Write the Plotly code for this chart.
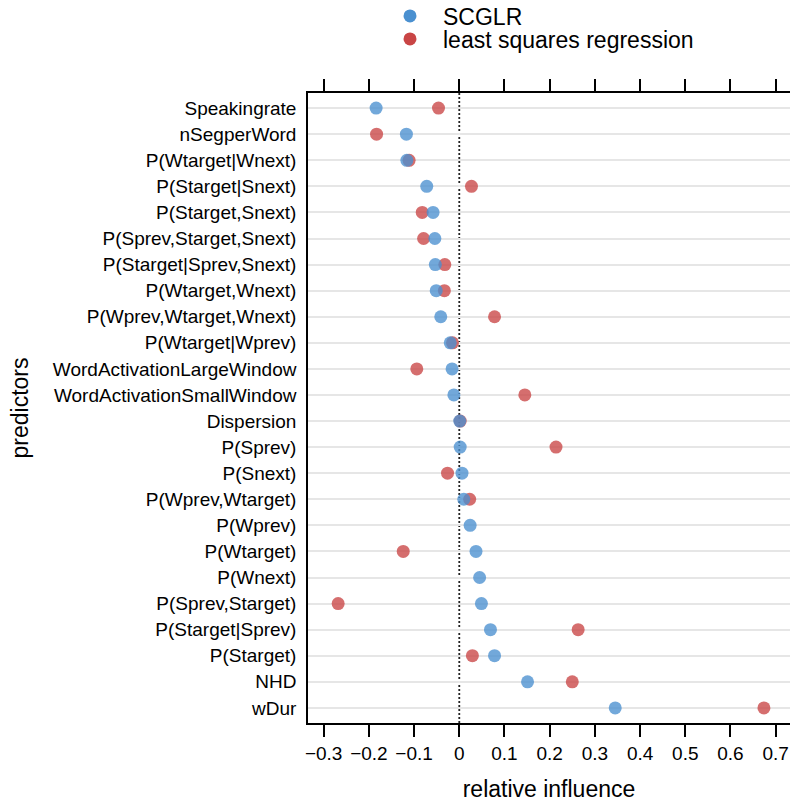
import plotly.graph_objects as go

predictors = [
    "Speakingrate", "nSegperWord", "P(Wtarget|Wnext)", "P(Starget|Snext)",
    "P(Starget,Snext)", "P(Sprev,Starget,Snext)", "P(Starget|Sprev,Snext)",
    "P(Wtarget,Wnext)", "P(Wprev,Wtarget,Wnext)", "P(Wtarget|Wprev)",
    "WordActivationLargeWindow", "WordActivationSmallWindow", "Dispersion",
    "P(Sprev)", "P(Snext)", "P(Wprev,Wtarget)", "P(Wprev)", "P(Wtarget)",
    "P(Wnext)", "P(Sprev,Starget)", "P(Starget|Sprev)", "P(Starget)", "NHD", "wDur",
]
scglr = [
    -0.184, -0.117, -0.116, -0.072, -0.058, -0.054, -0.053, -0.051, -0.041,
    -0.020, -0.016, -0.012, 0.001, 0.002, 0.006, 0.010, 0.024, 0.037, 0.045,
    0.049, 0.069, 0.078, 0.151, 0.345,
]
lsr = [
    -0.046, -0.183, -0.111, 0.027, -0.082, -0.079, -0.032, -0.033, 0.078,
    -0.015, -0.094, 0.145, 0.002, 0.214, -0.026, 0.023, None, -0.124, None,
    -0.268, 0.263, 0.029, 0.250, 0.674,
]
x_ticks = [-0.3, -0.2, -0.1, 0, 0.1, 0.2, 0.3, 0.4, 0.5, 0.6, 0.7]
x_ticktext = ["\u22120.3", "\u22120.2", "\u22120.1", "0", "0.1", "0.2", "0.3", "0.4", "0.5", "0.6", "0.7"]

BLUE = "#4A90D0"
RED = "#C94545"
FONT = "Liberation Sans, Arial, sans-serif"

fig = go.Figure()
fig.add_trace(go.Scatter(x=lsr, y=predictors, mode="markers", showlegend=False,
                         marker=dict(size=13, color=RED, opacity=0.78, line=dict(width=0))))
fig.add_trace(go.Scatter(x=scglr, y=predictors, mode="markers", showlegend=False,
                         marker=dict(size=13, color=BLUE, opacity=0.78, line=dict(width=0))))
# legend entries
fig.add_trace(go.Scatter(x=[None], y=[None], mode="markers", name="SCGLR", legend="legend",
                         marker=dict(size=13, color=BLUE)))
fig.add_trace(go.Scatter(x=[None], y=[None], mode="markers", name="least squares regression",
                         legend="legend2", marker=dict(size=13, color=RED)))

fig.add_shape(type="line", x0=0, x1=0, xref="x", y0=0, y1=1, yref="paper",
              line=dict(color="#222222", width=1.8, dash="2px,2px"), layer="between")

leg_common = dict(font=dict(family=FONT, size=23, color="black"), bgcolor="rgba(0,0,0,0)",
                  xanchor="left", yanchor="middle", borderwidth=0, itemwidth=56)

fig.update_layout(
    width=790, height=803,
    margin=dict(l=308, r=0, t=93, b=80, autoexpand=False),
    plot_bgcolor="white", paper_bgcolor="white",
    font=dict(family=FONT, size=19, color="black"),
    legend=dict(x=(377 - 308) / 482, y=(723 - 16) / 630, **leg_common),
    legend2=dict(x=(377 - 308) / 482, y=(723 - 39) / 630, **leg_common),
    xaxis=dict(
        range=[-0.3347, 0.7317], tickvals=x_ticks, ticktext=x_ticktext, automargin=False,
        ticks="outside", ticklen=12, tickwidth=1.5, tickcolor="black",
        showline=True, linewidth=1.5, linecolor="black", mirror="ticks",
        showgrid=False, zeroline=False,
        tickfont=dict(family=FONT, size=19, color="black"),
        title=dict(text="relative influence", font=dict(family=FONT, size=23, color="black"), standoff=18),
    ),
    yaxis=dict(
        type="category", categoryorder="array", categoryarray=predictors,
        range=[23.58, -0.58], automargin=False,
        showline=True, linewidth=1.5, linecolor="black", mirror=False,
        ticks="", ticklabelstandoff=6,
        showgrid=True, gridcolor="#E6E6E6", gridwidth=1.5, zeroline=False,
        tickfont=dict(family=FONT, size=19, color="black"),
        title=dict(text="predictors", font=dict(family=FONT, size=23, color="black"), standoff=18),
    ),
)

fig.write_html("out.html", config={"displayModeBar": False},
               post_script="document.body.style.margin='0';document.body.style.overflow='hidden';")
